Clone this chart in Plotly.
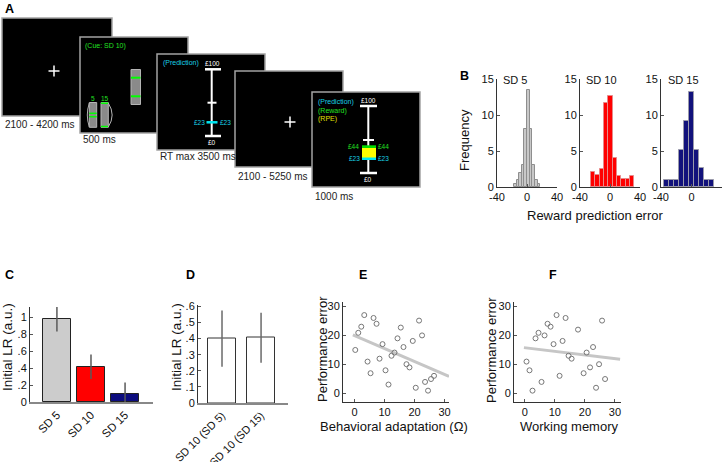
import plotly.graph_objects as go

W, H = 727, 462
FONT = "Liberation Sans, Arial, Helvetica, sans-serif"

# ---------------- data ----------------
# Panel B histograms (reward prediction error)
sd5_centers = [-15.75, -12.25, -8.75, -5.25, -1.75, 1.75, 5.25, 8.75, 12.25, 15.75]
sd5_counts = [0.4, 1, 2, 3, 8, 13.5, 8, 3, 1, 0.4]
sd10_centers = [-22.7, -16.9, -11.1, -5.3, 0.5, 6.3, 12.1, 17.9, 23.7, 29.5]
sd10_counts = [2.1, 1.6, 2.5, 11.7, 12.6, 4.0, 1.5, 1.1, 1.1, 1.5]
sd15_centers = [-32.75, -26.25, -19.75, -13.25, -6.75, -0.25, 6.25, 12.75, 19.25, 25.75]
sd15_counts = [1, 1, 1, 5.1, 9.2, 13.2, 5.1, 2.6, 1, 1]
hist_titles = ["SD 5", "SD 10", "SD 15"]

# Panel C
c_labels = ["SD 5", "SD 10", "SD 15"]
c_values = [0.975, 0.415, 0.095]
c_err = [0.145, 0.145, 0.135]
c_colors = ["#cccccc", "#ff0000", "#0c0c7e"]

# Panel D
d_labels = ["SD 10 (SD 5)", "SD 10 (SD 15)"]
d_values = [0.40, 0.405]
d_err = [0.175, 0.155]

# Panel E
e_x = [0.2, 1.2, 2.2, 3.2, 4.3, 5.3, 6.3, 7.3, 8.3, 9.3, 10.3, 11.3, 12.3, 13.3,
       14.3, 15.4, 16.3, 17.3, 18.3, 19.4, 20.4, 21.5, 22.5, 23.5, 24.5, 25.5, 26.5]
e_y = [14.9, 20.8, 22.9, 26.9, 10.9, 6.9, 25.9, 23.9, 11.9, 16.9, 7.9, 3.0, 12.9, 14.0,
       18.9, 22.6, 15.9, 10.0, 8.9, 18.0, 1.9, 25.0, 19.9, 3.9, 0.9, 4.9, 6.0]
e_fit_x = [-0.6, 31.5]
e_fit_y = [20.1, 5.8]

# Panel F
f_x = [0.56, 1.56, 2.56, 3.56, 4.56, 5.56, 6.56, 7.56, 8.56, 9.56, 10.56, 11.56, 12.56,
       13.56, 14.56, 15.56, 17.7, 19.56, 20.56, 21.7, 22.7, 23.7, 24.7, 25.7, 26.7]
f_y = [10.9, 7.9, 0.9, 18.9, 20.8, 3.9, 19.9, 23.9, 22.9, 16.9, 26.9, 6.0, 18.0,
       25.9, 12.9, 11.9, 21.9, 6.9, 14.0, 8.9, 15.9, 1.9, 10.0, 25.0, 4.9]
f_fit_x = [-0.3, 31.7]
f_fit_y = [15.7, 11.7]

screen_captions = ["2100 - 4200 ms", "500 ms", "RT max 3500 ms", "2100 - 5250 ms", "1000 ms"]


def px(x):
    return x / W


def py(y):
    return 1 - y / H


def dom_x(a, b):
    return [a / W, b / W]


def dom_y(top, bottom):
    return [1 - bottom / H, 1 - top / H]


fig = go.Figure()

# ---------------- panel B ----------------
fig.add_trace(go.Bar(x=sd5_centers, y=sd5_counts, width=3.5,
                     marker=dict(color="#c8c8c8", line=dict(color="#8e8e8e", width=1)),
                     xaxis="x", yaxis="y", showlegend=False))
fig.add_trace(go.Bar(x=sd10_centers, y=sd10_counts, width=5.8,
                     marker=dict(color="#ff0000", line=dict(color="#e68a8a", width=1)),
                     xaxis="x2", yaxis="y2", showlegend=False))
fig.add_trace(go.Bar(x=sd15_centers, y=sd15_counts, width=6.5,
                     marker=dict(color="#12127c", line=dict(color="#9a9aaa", width=1)),
                     xaxis="x3", yaxis="y3", showlegend=False))

# ---------------- panel C ----------------
fig.add_trace(go.Bar(x=c_labels, y=c_values, width=0.82,
                     marker=dict(color=c_colors, line=dict(color="#222222", width=1)),
                     error_y=dict(type="data", array=c_err, color="#5a5a5a", thickness=1.5, width=0),
                     xaxis="x4", yaxis="y4", showlegend=False))

# ---------------- panel D ----------------
fig.add_trace(go.Bar(x=d_labels, y=d_values, width=0.72,
                     marker=dict(color="white", line=dict(color="#333333", width=1)),
                     error_y=dict(type="data", array=d_err, color="#6a6a6a", thickness=1.5, width=0),
                     xaxis="x5", yaxis="y5", showlegend=False))

# ---------------- panel E ----------------
fig.add_trace(go.Scatter(x=e_fit_x, y=e_fit_y, mode="lines",
                         line=dict(color="#c6c6c6", width=3), xaxis="x6", yaxis="y6", showlegend=False))
fig.add_trace(go.Scatter(x=e_x, y=e_y, mode="markers",
                         marker=dict(symbol="circle-open", size=5, color="#777777", line=dict(width=1)),
                         xaxis="x6", yaxis="y6", showlegend=False))

# ---------------- panel F ----------------
fig.add_trace(go.Scatter(x=f_fit_x, y=f_fit_y, mode="lines",
                         line=dict(color="#c6c6c6", width=3), xaxis="x7", yaxis="y7", showlegend=False))
fig.add_trace(go.Scatter(x=f_x, y=f_y, mode="markers",
                         marker=dict(symbol="circle-open", size=5, color="#777777", line=dict(width=1)),
                         xaxis="x7", yaxis="y7", showlegend=False))

base_ax = dict(showline=True, linecolor="#333333", linewidth=1, showgrid=False, zeroline=False,
               ticks="inside", ticklen=3, tickcolor="#555555", automargin=False,
               tickfont=dict(family=FONT, size=11, color="#111"))

layout = dict(
    width=W, height=H, margin=dict(l=0, r=0, t=0, b=0, pad=0, autoexpand=False),
    paper_bgcolor="white", plot_bgcolor="white", bargap=0, showlegend=False,
    font=dict(family=FONT, color="#111"),
)

# B axes
b_domains = [(497, 557), (580, 640), (661, 722)]
for i, (a, b) in enumerate(b_domains):
    sx = "" if i == 0 else str(i + 1)
    layout["xaxis" + sx] = dict(base_ax, domain=dom_x(a, b), range=[-40, 40], tickvals=[-40, 0, 40],
                                ticktext=["-40", "0", "40"], anchor="y" + sx)
    layout["yaxis" + sx] = dict(base_ax, domain=dom_y(79, 187), range=[0, 15], tickvals=[0, 5, 10, 15],
                                anchor="x" + sx)

# C axes
layout["xaxis4"] = dict(base_ax, domain=dom_x(30, 153), range=[-0.79, 2.82], type="category",
                        ticks="", tickangle=-45, linecolor="#888888", linewidth=1.5,
                        tickfont=dict(family=FONT, size=11.5, color="#111"), anchor="y4")
layout["yaxis4"] = dict(base_ax, domain=dom_y(307, 402), range=[0, 1.12],
                        tickvals=[0, 0.2, 0.4, 0.6, 0.8, 1], ticktext=["0", ".2", ".4", ".6", ".8", "1"],
                        anchor="x4")

# D axes
layout["xaxis5"] = dict(base_ax, domain=dom_x(198, 288), range=[-0.615, 1.69], type="category",
                        ticks="", tickangle=-45, linecolor="#888888", linewidth=1.5,
                        tickfont=dict(family=FONT, size=11, color="#111"), anchor="y5")
layout["yaxis5"] = dict(base_ax, domain=dom_y(304.5, 403), range=[0, 0.612],
                        tickvals=[0, 0.1, 0.2, 0.3, 0.4, 0.5, 0.6],
                        ticktext=["0", ".1", ".2", ".3", ".4", ".5", ".6"], anchor="x5")

# E axes
layout["xaxis6"] = dict(base_ax, domain=dom_x(343, 449), range=[-3.9, 31.5], tickvals=[0, 10, 20, 30],
                        tickfont=dict(family=FONT, size=11, color="#111"), anchor="y6")
layout["yaxis6"] = dict(base_ax, domain=dom_y(301.7, 401.7), range=[-2.9, 31.5], tickvals=[0, 10, 20, 30],
                        tickfont=dict(family=FONT, size=11, color="#111"), anchor="x6")
# F axes
layout["xaxis7"] = dict(base_ax, domain=dom_x(514, 621), range=[-3.6, 32], tickvals=[0, 10, 20, 30],
                        tickfont=dict(family=FONT, size=11, color="#111"), anchor="y7")
layout["yaxis7"] = dict(base_ax, domain=dom_y(301.7, 401.7), range=[-2.9, 31.5], tickvals=[0, 10, 20, 30],
                        tickfont=dict(family=FONT, size=11, color="#111"), anchor="x7")

fig.update_layout(**layout)

# ---------------- panel A (schematic) ----------------
shapes = []
annots = []


def rect(x0, y0, x1, y1, fill, line_color=None, lw=0):
    d = dict(type="rect", xref="paper", yref="paper", x0=px(x0), x1=px(x1), y0=py(y1), y1=py(y0),
             fillcolor=fill, layer="above")
    if line_color:
        d["line"] = dict(color=line_color, width=lw)
    else:
        d["line"] = dict(width=0)
    shapes.append(d)


def seg(x0, y0, x1, y1, color, lw):
    shapes.append(dict(type="line", xref="paper", yref="paper", x0=px(x0), x1=px(x1), y0=py(y0), y1=py(y1),
                       line=dict(color=color, width=lw), layer="above"))


def path(pts_str, color, lw):
    shapes.append(dict(type="path", xref="paper", yref="paper", path=pts_str,
                       line=dict(color=color, width=lw), layer="above"))


def txt(x, y, s, size, color="#111", xanchor="left", bold=False, angle=0, yanchor="middle"):
    if bold:
        s = "<b>" + s + "</b>"
    annots.append(dict(x=px(x), y=py(y), xref="paper", yref="paper", text=s, showarrow=False,
                       xanchor=xanchor, yanchor=yanchor, textangle=angle,
                       font=dict(family=FONT, size=size, color=color)))


def screen(x0, y0, x1, y1):
    rect(x0, y0, x1, y1, "black", "#a3a3a3", 1.5)


def cross(cx, cy):
    seg(cx - 5.5, cy, cx + 5.5, cy, "white", 1.5)
    seg(cx, cy - 5.5, cx, cy + 5.5, "white", 1.5)


GREEN = "#22e022"
CYAN = "#19d0e6"
YEL = "#e0e000"

# screen 1
screen(2, 18, 112, 116)
cross(54, 71)
# screen 2
screen(80, 37, 188, 133)
rect(131, 69.5, 140.5, 104.5, "#8a8a8a", "#b5b5b5", 1)
seg(131, 77.7, 140.5, 77.7, "#00ff00", 2)
seg(131, 96.3, 140.5, 96.3, "#00ff00", 2)
rect(89.3, 102.5, 96.7, 127.3, "#8a8a8a", "#b5b5b5", 1)
seg(89.3, 113.3, 96.7, 113.3, "#00ff00", 1.5)
seg(89.3, 116.7, 96.7, 116.7, "#00ff00", 1.5)
rect(101, 102.5, 108.3, 127.3, "#8a8a8a", "#b5b5b5", 1)
seg(101, 103.2, 108.3, 103.2, "#00ff00", 1.5)
seg(101, 126.5, 108.3, 126.5, "#00ff00", 1.5)
path("M %f,%f Q %f,%f %f,%f" % (px(89.3), py(103), px(85.3), py(115), px(89.3), py(127)), "#b5b5b5", 1)
path("M %f,%f Q %f,%f %f,%f" % (px(108.3), py(103), px(116), py(115), px(108.3), py(127)), "#b5b5b5", 1)
# screen 3
screen(157, 54, 265, 150)
seg(211.7, 69.3, 211.7, 136, "white", 2)
seg(205, 69.3, 221, 69.3, "white", 2.5)
seg(205, 136, 221, 136, "white", 2.5)
seg(207.5, 102.7, 216.5, 102.7, "white", 2)
seg(206.5, 122.3, 217.5, 122.3, "#00e6f0", 2.5)
# screen 4
screen(235, 71, 343, 167)
cross(290, 122)
# screen 5
screen(312, 92, 420, 187)
seg(368.3, 106, 368.3, 173, "white", 2)
seg(360, 106, 377, 106, "white", 2.5)
seg(360, 173, 377, 173, "white", 2.5)
seg(363, 140, 374, 140, "white", 2)
rect(362, 146, 376, 160, "#ffff00")
rect(362, 145.3, 376, 148, "#00dd00")
rect(362, 157.5, 376, 160, "#00e6f0")

# screen texts
txt(82.5, 46, "(Cue: SD 10)", 7, GREEN)
txt(92.6, 98.3, "5", 6.5, GREEN, xanchor="center")
txt(104.7, 98.3, "15", 6.5, GREEN, xanchor="center")
txt(161, 63.3, "(Prediction)", 7, CYAN)
txt(212, 63.3, "£100", 6.5, "white", xanchor="center")
txt(199, 122.3, "£23", 6.5, CYAN, xanchor="center")
txt(225.5, 122.3, "£23", 6.5, CYAN, xanchor="center")
txt(212, 142.3, "£0", 6.5, "white", xanchor="center")
txt(316, 102, "(Prediction)", 7, CYAN)
txt(316, 110.7, "(Reward)", 7, GREEN)
txt(316, 119.3, "(RPE)", 7, YEL)
txt(368.3, 101, "£100", 6.5, "white", xanchor="center")
txt(353, 146, "£44", 6.5, GREEN, xanchor="center")
txt(383, 146, "£44", 6.5, GREEN, xanchor="center")
txt(354, 159, "£23", 6.5, CYAN, xanchor="center")
txt(383, 159, "£23", 6.5, CYAN, xanchor="center")
txt(368.3, 179.5, "£0", 6.5, "white", xanchor="center")

# captions
cap_pos = [(3, 124), (81, 139.3), (158, 156.7), (236, 176), (313, 196.7)]
for (cx, cy), s in zip(cap_pos, screen_captions):
    txt(cx, cy, s, 10, "#222")

# panel letters
for s, x, y in [("A", 2.5, 9), ("B", 458, 76), ("C", 3, 275), ("D", 183.5, 275), ("E", 357, 275), ("F", 547, 275)]:
    txt(x, y, s, 12.5, "#000", bold=True)

# panel B texts
for s, x in zip(hist_titles, [501, 584, 665.5]):
    txt(x, 80, s, 11, "#111")
txt(465, 140, "Frequency", 13, angle=-90, xanchor="center")
txt(595, 215, "Reward prediction error", 13, xanchor="center")

# panel C/D/E/F axis titles
txt(7, 347, "Initial LR (a.u.)", 13.5, angle=-90, xanchor="center")
txt(176, 347, "Initial LR (a.u.)", 13.5, angle=-90, xanchor="center")
txt(322, 349, "Performance error", 13, angle=-90, xanchor="center")
txt(491, 350, "Performance error", 13, angle=-90, xanchor="center")
txt(393.5, 426, "Behavioral adaptation (Ω)", 13, xanchor="center")
txt(569, 426, "Working memory", 13, xanchor="center")

fig.update_layout(shapes=shapes, annotations=annots)
fig.write_html("out.html", config={"displayModeBar": False},
               post_script="document.body.style.margin='0px';document.body.style.overflow='hidden';")
